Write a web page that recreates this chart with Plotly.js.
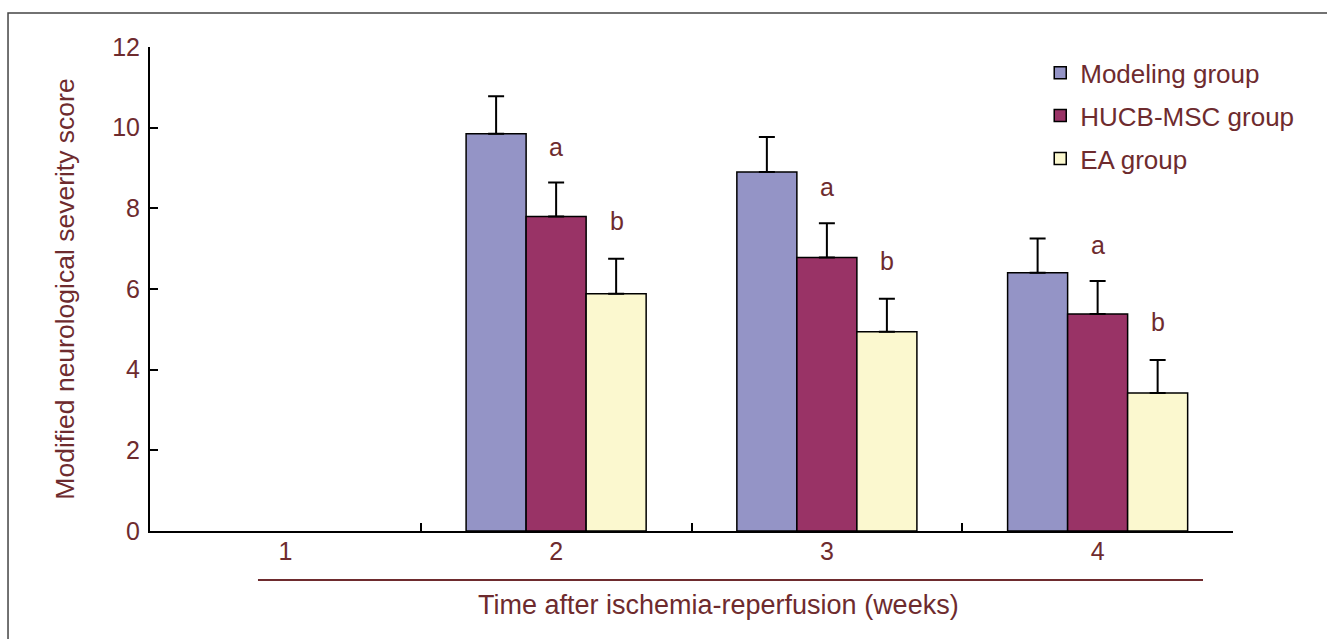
<!DOCTYPE html>
<html>
<head>
<meta charset="utf-8">
<script src="https://cdn.plot.ly/plotly-3.0.1.min.js"></script>
<style>html,body{margin:0;padding:0;background:#fff;}#chart{width:1327px;height:639px;}</style>
</head>
<body>
<div id="chart"></div>
<script>
// Data
const weeks = ['1', '2', '3', '4'];
const modelingMean = [null, 9.85, 8.9, 6.4];
const modelingErr  = [null, 0.93, 0.87, 0.85];
const hucbMean     = [null, 7.8, 6.78, 5.38];
const hucbErr      = [null, 0.84, 0.85, 0.82];
const eaMean       = [null, 5.88, 4.94, 3.42];
const eaErr        = [null, 0.87, 0.82, 0.82];
const hucbLetters  = ['', 'a', 'a', 'a'];
const eaLetters    = ['', 'b', 'b', 'b'];
const seriesNames  = ['Modeling group', 'HUCB-MSC group', 'EA group'];

const textColor = '#6e2b2e';
const fontFam = 'Liberation Sans, Arial, sans-serif';

function barTrace(name, y, err, color, grp) {
  return {
    type: 'bar', name: name, x: weeks, y: y,
    legendgroup: grp,
    marker: {color: color, line: {color: '#000', width: 1.5}},
    error_y: {type: 'data', symmetric: false, array: err,
              arrayminus: err.map(() => 0), color: '#000', thickness: 2, width: 8}
  };
}

const traces = [
  barTrace(seriesNames[0], modelingMean, modelingErr, '#9494c6', 'g1'),
  barTrace(seriesNames[1], hucbMean, hucbErr, '#993366', 'g2'),
  barTrace(seriesNames[2], eaMean, eaErr, '#fbf8cf', 'g3')
];

// significance letters placed above the error caps
const annotations = [];
const barOffset = 0.223; // one bar width in category units
weeks.forEach((w, i) => {
  if (hucbLetters[i]) {
    annotations.push({x: i, y: hucbMean[i] + hucbErr[i], xref: 'x', yref: 'y',
      text: hucbLetters[i], showarrow: false, yanchor: 'middle', yshift: 36,
      font: {family: fontFam, size: 25, color: textColor}});
  }
  if (eaLetters[i]) {
    annotations.push({x: i + barOffset, y: eaMean[i] + eaErr[i], xref: 'x', yref: 'y',
      text: eaLetters[i], showarrow: false, yanchor: 'middle', yshift: 38,
      font: {family: fontFam, size: 25, color: textColor}});
  }
});
annotations.push({xref: 'paper', yref: 'paper', x: 0.5245, y: -0.153,
  text: 'Time after ischemia-reperfusion (weeks)', showarrow: false,
  xanchor: 'center', yanchor: 'middle',
  font: {family: fontFam, size: 27, color: textColor}});

const layout = {
  width: 1327, height: 639,
  margin: {l: 150, r: 94, t: 47, b: 108},
  paper_bgcolor: '#fff', plot_bgcolor: '#fff',
  font: {family: fontFam, size: 25, color: textColor},
  barmode: 'group', bargap: 0.335, bargroupgap: 0,
  showlegend: true,
  legend: {x: 0.822, y: 0.995, xanchor: 'left', yanchor: 'top',
           bgcolor: 'rgba(0,0,0,0)', traceorder: 'grouped', tracegroupgap: 6,
           font: {family: fontFam, size: 26, color: textColor}},
  xaxis: {
    type: 'category', tickmode: 'array', tickvals: weeks, ticktext: weeks,
    showline: true, linecolor: '#000', linewidth: 2,
    ticks: 'inside', tickson: 'boundaries', ticklen: 8, tickwidth: 2, tickcolor: '#000',
    showgrid: false, zeroline: false, range: [-0.5, 3.5],
    tickfont: {family: fontFam, size: 25, color: textColor}, ticklabelstandoff: -3
  },
  yaxis: {
    range: [0, 12], tickvals: [0, 2, 4, 6, 8, 10, 12],
    showline: true, linecolor: '#000', linewidth: 2,
    ticks: 'inside', ticklen: 8, tickwidth: 2, tickcolor: '#000',
    showgrid: false, zeroline: false,
    tickfont: {family: fontFam, size: 25, color: textColor}, ticklabelstandoff: 3,
    title: {text: 'Modified neurological severity score', standoff: 30,
            font: {family: fontFam, size: 26.5, color: textColor}}
  },
  shapes: [
    {type: 'rect', xref: 'paper', yref: 'paper', x0: -0.1311, x1: 1.095, y0: -0.25, y1: 1.07,
     line: {color: '#444', width: 1.5}, fillcolor: 'rgba(0,0,0,0)', layer: 'below'},
    {type: 'line', xref: 'paper', yref: 'paper', x0: 0.0997, x1: 0.9723, y0: -0.1012, y1: -0.1012,
     line: {color: textColor, width: 2}}
  ],
  annotations: annotations
};

Plotly.newPlot('chart', traces, layout, {displayModeBar: false, staticPlot: true});
</script>
</body>
</html>
